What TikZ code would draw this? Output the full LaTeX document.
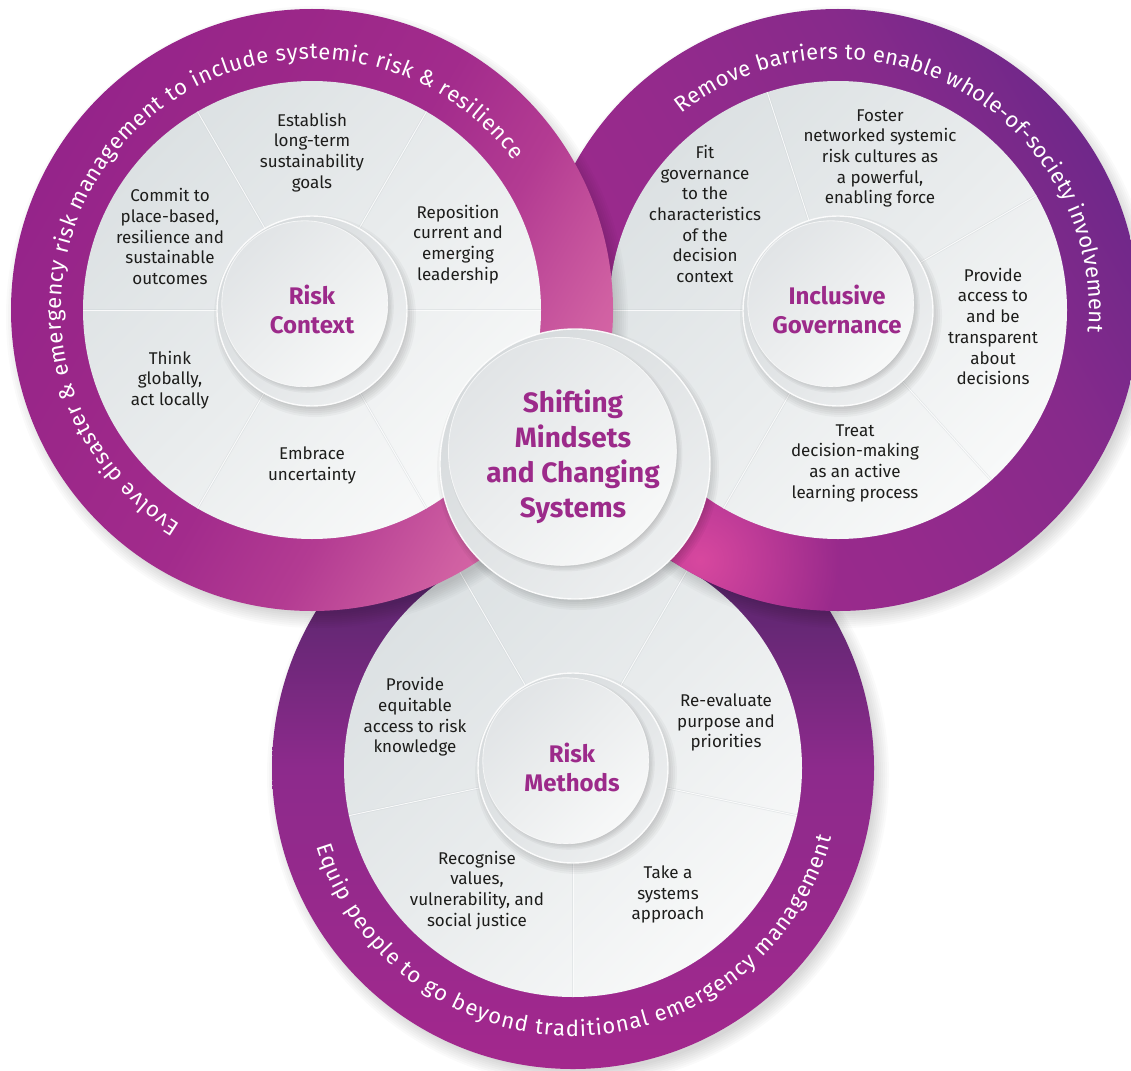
\documentclass[tikz,border=0pt]{standalone}
\usepackage{fontspec}
\setmainfont{Fira Sans}
\usetikzlibrary{calc,decorations.text,fadings}

\definecolor{ink}{HTML}{1D1D1B}
\definecolor{headc}{HTML}{9C2A8A}
\definecolor{lrA}{HTML}{95248A}
\definecolor{lrB}{HTML}{9B2789}
\definecolor{lrC}{HTML}{A22B8C}
\definecolor{lrD}{HTML}{B33B92}
\definecolor{lrE}{HTML}{D060A2}
\definecolor{lrF}{HTML}{DA67A7}
\definecolor{rrA}{HTML}{A02A8D}
\definecolor{rrB}{HTML}{952A8C}
\definecolor{rrC}{HTML}{872A8B}
\definecolor{rrD}{HTML}{70288A}
\definecolor{glowc}{HTML}{D8489F}
\definecolor{brA}{HTML}{A3288D}
\definecolor{brB}{HTML}{8D2A8C}
\definecolor{brC}{HTML}{5F2771}
\definecolor{brD}{HTML}{4B2365}
\definecolor{dA}{HTML}{DCE1E3}
\definecolor{dB}{HTML}{E9ECED}
\definecolor{dC}{HTML}{F8F9F9}
\definecolor{hA}{HTML}{D6DADC}
\definecolor{hB}{HTML}{EDEFF0}
\definecolor{fA}{HTML}{E1E4E6}
\definecolor{fB}{HTML}{F7F8F8}
\definecolor{creasec}{HTML}{C9CFD2}

\pgfdeclarehorizontalshading{lringsh}{100bp}{color(0bp)=(lrA); color(25bp)=(lrA); color(37bp)=(lrB); color(50bp)=(lrC); color(60bp)=(lrD); color(71bp)=(lrE); color(75bp)=(lrF); color(100bp)=(lrF)}
\pgfdeclarehorizontalshading{rringsh}{100bp}{color(0bp)=(rrA); color(25bp)=(rrA); color(45bp)=(rrB); color(62bp)=(rrC); color(75bp)=(rrD); color(100bp)=(rrD)}
\pgfdeclareverticalshading{bringsh}{100bp}{color(0bp)=(brA); color(25bp)=(brA); color(50bp)=(brB); color(64bp)=(brC); color(75bp)=(brD); color(100bp)=(brD)}
\pgfdeclarehorizontalshading{discsh}{100bp}{color(0bp)=(dA); color(25bp)=(dA); color(50bp)=(dB); color(75bp)=(dC); color(100bp)=(dC)}
\pgfdeclarehorizontalshading{hubbase}{100bp}{color(0bp)=(hA); color(25bp)=(hA); color(75bp)=(hB); color(100bp)=(hB)}
\pgfdeclarehorizontalshading{hubface}{100bp}{color(0bp)=(fA); color(25bp)=(fA); color(75bp)=(fB); color(100bp)=(fB)}
\tikzfading[name=glowfade, inner color=transparent!0, outer color=transparent!100]

\newcommand\ringfont{\fontsize{22}{26}\selectfont}

\newcommand\hubdisc[4]{%
  \begin{scope}[shift={(#1,#2)}]
    \foreach \k in {0,...,6}{\pgfmathsetmacro\rrad{#3+6-2*\k}\fill[black,opacity=.03] (3,-5) circle (\rrad pt);}
    \path[shading=hubbase, shading angle=-45] (0,0) circle (#3pt);
    \pgfmathsetmacro\hoff{(#3-#4)*0.6}
    \foreach \k in {0,...,4}{\pgfmathsetmacro\rrad{#4+3-1.5*\k}\fill[black,opacity=.035] (-\hoff+3,\hoff-3) circle (\rrad pt);}
    \path[shading=hubface, shading angle=-45] (-\hoff,\hoff) circle (#4pt);
    \draw[white, line width=1.4pt, opacity=.9] (0,0) circle (#3pt);
    \draw[white, line width=.8pt, opacity=.7] (-\hoff,\hoff) circle (#4pt);
  \end{scope}}

\begin{document}
\begin{tikzpicture}[x=1pt,y=1pt,
  body/.style={font=\fontsize{17}{20.7}\selectfont, text=ink, align=center, inner sep=0pt},
  headtxt/.style={font=\bfseries\fontsize{24}{29}\selectfont, text=headc, align=center, inner sep=0pt},
  bigtxt/.style={font=\bfseries\fontsize{28}{35}\selectfont, text=headc, align=center, inner sep=0pt},
  crease/.style={draw=creasec, line width=2.4pt, opacity=.35},
  creasehi/.style={draw=white, line width=.9pt, opacity=.85},
  ringtext/.style={decorate, decoration={text along path, text={|\ringfont|#1}, text align=fit to path, text color=white}},
]
\useasboundingbox (0,0) rectangle (1131,-1070);
\clip (0,0) rectangle (1131,-1070);
\fill[white] (0,0) rectangle (1131,-1070);

% ---------- bottom wheel: Risk Methods ----------
\begin{scope}[shift={(573,-768)}]
  \foreach \k in {0,...,7}{\pgfmathsetmacro\rrad{311-2*\k}\fill[black,opacity=.02] (5,-7) circle (\rrad pt);}
  \path[shading=bringsh] (0,0) circle (301pt);
  \path[ringtext={Equip people to go beyond traditional emergency management}] (197:268) arc[start angle=197, end angle=345, radius=268];
  \path[shading=discsh, shading angle=-45] (0,0) circle (229pt);
  \foreach \a in {60,120,192,270,348}{\draw[crease] (\a:90) -- (\a:229); \draw[creasehi] (\a:90) -- (\a:229);}
\end{scope}
\hubdisc{573}{-768}{95}{83}

% ---------- right wheel: Inclusive Governance ----------
\begin{scope}[shift={(838,-310)}]
  \foreach \k in {0,...,7}{\pgfmathsetmacro\rrad{311-2*\k}\fill[black,opacity=.02] (5,-7) circle (\rrad pt);}
  \path[shading=rringsh, shading angle=30] (0,0) circle (301pt);
  \begin{scope}
    \clip (0,0) circle (301pt);
    \fill[glowc, path fading=glowfade] (-138,-250) circle (140pt);
  \end{scope}
  \path[ringtext={Remove barriers to enable whole-of-society involvement}] (128.5:251) arc[start angle=128.5, end angle=-5, radius=251];
  \path[shading=discsh, shading angle=-45] (0,0) circle (229pt);
  \foreach \a in {180,108,30,-48,-120}{\draw[crease] (\a:90) -- (\a:229); \draw[creasehi] (\a:90) -- (\a:229);}
\end{scope}
\hubdisc{838}{-311}{95}{83}

% ---------- left wheel: Risk Context ----------
\begin{scope}[shift={(312,-310)}]
  \foreach \k in {0,...,7}{\pgfmathsetmacro\rrad{311-2*\k}\fill[black,opacity=.02] (5,-7) circle (\rrad pt);}
  \path[shading=lringsh, shading angle=-30] (0,0) circle (301pt);
  \path[ringtext={Evolve disaster {\&} emergency risk management to include systemic risk {\&} resilience}] (238.5:251) arc[start angle=238.5, end angle=36.5, radius=251];
  \path[shading=discsh, shading angle=-45] (0,0) circle (229pt);
  \foreach \a in {0,60,120,180,240,300}{\draw[crease] (\a:90) -- (\a:229); \draw[creasehi] (\a:90) -- (\a:229);}
\end{scope}
\hubdisc{312}{-311}{95}{83}

% ---------- centre hub ----------
\hubdisc{575}{-464}{135}{114}

% ---------- texts ----------
\node[headtxt] (hrc) at (312,-309.5) {Risk\\Context};
\node[headtxt] (hig) at (837,-309.5) {Inclusive\\Governance};
\node[headtxt] (hrm) at (572,-767) {Risk\\Methods};
\node[bigtxt] (hsm) at (573,-457) {Shifting\\Mindsets\\and Changing\\Systems};

\node[body] (l1) at (312,-152.5) {Establish\\long-term\\sustainability\\goals};
\node[body] (l2) at (170,-236.5) {Commit to\\place-based,\\resilience and\\sustainable\\outcomes};
\node[body] (l3) at (458,-244.5) {Reposition\\current and\\emerging\\leadership};
\node[body] (l4) at (170,-380) {Think\\globally,\\act locally};
\node[body] (l5) at (312,-465.5) {Embrace\\uncertainty};

\node[body] (r1) at (705,-214) {Fit\\governance\\to the\\characteristics\\of the\\decision\\context};
\node[body] (r2) at (880,-158.5) {Foster\\networked systemic\\risk cultures as\\a powerful,\\enabling force};
\node[body] (r3) at (993,-326.5) {Provide\\access to\\and be\\transparent\\about\\decisions};
\node[body] (r4) at (855,-463) {Treat\\decision-making\\as an active\\learning process};

\node[body] (b1) at (415,-717) {Provide\\equitable\\access to risk\\knowledge};
\node[body] (b2) at (726,-722.5) {Re-evaluate\\purpose and\\priorities};
\node[body] (b3) at (477,-890.5) {Recognise\\values,\\vulnerability, and\\social justice};
\node[body] (b4) at (668,-894.5) {Take a\\systems\\approach};
\end{tikzpicture}
\end{document}
